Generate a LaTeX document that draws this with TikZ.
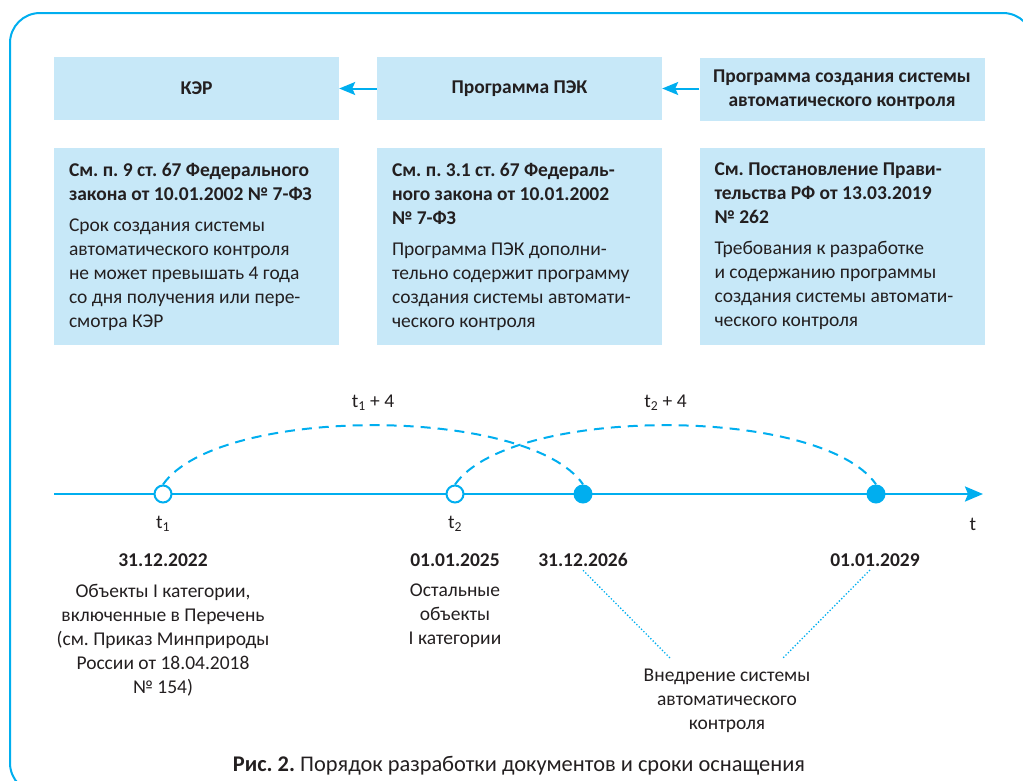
\documentclass[tikz,border=0pt]{standalone}
\usepackage{fontspec}
\setmainfont{Carlito}
\usetikzlibrary{arrows.meta}
\definecolor{cyanline}{HTML}{00AEEF}
\definecolor{boxfill}{HTML}{C7E8F8}
\definecolor{ink}{HTML}{231F20}
\frenchspacing
\begin{document}
\begin{tikzpicture}[x=1pt,y=-1pt,
  every node/.style={text=ink,font=\fontsize{19.5}{24}\selectfont},
  headbox/.style={fill=boxfill,minimum width=285pt,minimum height=63pt,align=center,font=\fontsize{19.5}{24}\selectfont\bfseries},
  notebox/.style={fill=boxfill,minimum width=285pt,minimum height=197pt,inner xsep=15pt,text width=255pt,align=flush left},
  datelab/.style={font=\fontsize{19.5}{24}\selectfont\bfseries},
  textlab/.style={anchor=north,inner sep=0pt,align=center},
  linkarrow/.style={-{Stealth[length=16pt,width=13pt,inset=3pt]},cyanline,line width=2pt},
  axisline/.style={-{Stealth[length=18pt,width=15pt,inset=3pt]},cyanline,line width=2.5pt},
  openpt/.style={circle,draw=cyanline,line width=2pt,fill=white,minimum size=17pt,inner sep=0pt},
  fullpt/.style={circle,fill=cyanline,minimum size=19pt,inner sep=0pt},
  spanline/.style={cyanline,line width=2pt,dash pattern=on 10pt off 7pt},
  hintline/.style={cyanline,line width=1.3pt,dotted}]

  \useasboundingbox (0,0) rectangle (1023,780);
  \draw[cyanline,line width=2pt,rounded corners=30pt] (10,13) rectangle (1033,793);

  \node[headbox] (KER) at (196.5,88.5) {КЭР};
  \node[headbox] (PEK) at (519.5,88.5) {Программа ПЭК};
  \node[headbox] (ASK) at (842,89.5) {Программа создания системы\\автоматического контроля};

  \draw[linkarrow] (PEK) -- (KER);
  \draw[linkarrow] (ASK.west |- PEK) -- (PEK);

  \node[notebox] (KERnote) at (196.5,246.5) {\bfseries См. п. 9 ст. 67 Федерального\\ закона от 10.01.2002 № 7-ФЗ\\[7pt]
    \mdseries Срок создания системы\\ автоматического контроля\\ не может превышать 4 года\\ со дня получения или пере-\\ смотра КЭР};
  \node[notebox] (PEKnote) at (519.5,246.5) {\bfseries См. п. 3.1 ст. 67 Федераль-\\ ного закона от 10.01.2002\\ № 7-ФЗ\\[7pt]
    \mdseries Программа ПЭК дополни-\\ тельно содержит программу\\ создания системы автомати-\\ ческого контроля};
  \node[notebox] (ASKnote) at (842,246.5) {\bfseries См. Постановление Прави-\\ тельства РФ от 13.03.2019\\ № 262\\[7pt]
    \mdseries Требования к разработке\\ и содержанию программы\\ создания системы автомати-\\ ческого контроля};

  \coordinate (Start) at (54,494);
  \coordinate (End) at (983,494);
  \draw[axisline] (Start) -- (End);

  \node[openpt] (T1) at (163,494) {};
  \node[openpt] (T2) at (455,494) {};
  \node[fullpt] (F1) at (583,494) {};
  \node[fullpt] (F2) at (876,494) {};

  \draw[spanline] (T1.north) .. controls +(55,-79) and +(-55,-79) .. (F1.north) node[midway,above=10pt] (Span1) {t\textsubscript{1} + 4};
  \draw[spanline] (T2.north) .. controls +(55,-79) and +(-55,-79) .. (F2.north) node[midway,above=10pt] (Span2) {t\textsubscript{2} + 4};

  \node (LabT1) at (163,524) {t\textsubscript{1}};
  \node (LabT2) at (455,524) {t\textsubscript{2}};
  \node (LabT) at (973,524) {t};

  \node[datelab] (D1) at (163,560) {31.12.2022};
  \node[datelab] (D2) at (455,560) {01.01.2025};
  \node[datelab] (D3) at (583,560) {31.12.2026};
  \node[datelab] (D4) at (875,560) {01.01.2029};

  \node[textlab] (Cat1) at (163,584) {Объекты I категории,\\ включенные в Перечень\\ (см. Приказ Минприроды\\ России от 18.04.2018\\ № 154)};
  \node[textlab] (Cat2) at (455,584) {Остальные\\ объекты\\ I категории};
  \node[textlab] (Impl) at (727,669) {Внедрение системы\\ автоматического\\ контроля};

  \coordinate (ImplL) at (670,658);
  \coordinate (ImplR) at (783,658);
  \draw[hintline] (D3.south) -- (ImplL);
  \draw[hintline] ([xshift=-5pt]D4.south) -- (ImplR);

  \node[anchor=base,font=\fontsize{22.4}{26}\selectfont] (Caption) at (519,771) {\textbf{Рис. 2.} Порядок разработки документов и сроки оснащения};

\end{tikzpicture}
\end{document}
